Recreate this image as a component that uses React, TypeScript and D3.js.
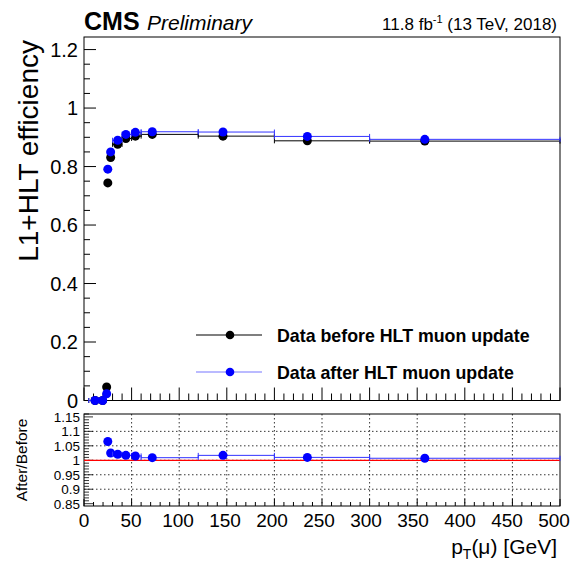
import React from "react";
import * as d3 from "d3";

const ptVals = [11.6, 19.6, 23.8, 25, 28, 35.4, 44, 54, 71.7, 146, 234.6, 358];
const binLo = [5, 15, 22, 24, 26, 30, 40, 50, 60, 120, 200, 300];
const binHi = [15, 22, 24, 26, 30, 40, 50, 60, 120, 200, 300, 500];
const effBefore = [0, 0, 0.046, 0.744, 0.831, 0.876, 0.896, 0.904, 0.91, 0.904, 0.888, 0.887];
const effAfter = [0, 0, 0.023, 0.791, 0.85, 0.89, 0.91, 0.917, 0.919, 0.918, 0.903, 0.893];
const effErr = [0, 0, 0.004, 0.004, 0.003, 0.002, 0.002, 0.002, 0.002, 0.002, 0.004, 0.008];
const ratioVals: (number | null)[] = [null, null, null, 1.065, 1.025, 1.021, 1.017, 1.015, 1.009, 1.017, 1.01, 1.007];
const ratioErr = [0, 0, 0, 0.004, 0.002, 0.002, 0.002, 0.002, 0.002, 0.002, 0.004, 0.012];
const xTicks = [0, 50, 100, 150, 200, 250, 300, 350, 400, 450, 500];
const yTicks = [0, 0.2, 0.4, 0.6, 0.8, 1, 1.2];
const rTicks = [0.85, 0.9, 0.95, 1, 1.05, 1.1, 1.15];
const legendLabels = ["Data before HLT muon update", "Data after HLT muon update"];

const L = 84, R = 560, T = 37, B = 400.5, RT = 414, RB = 506;
const FONT = "'Liberation Sans', Arial, Helvetica, sans-serif";

export default function App() {
  const x = d3.scaleLinear().domain([0, 500]).range([L, R]);
  const y = d3.scaleLinear().domain([0, 1.243]).range([B, T]);
  const yr = d3.scaleLinear().domain([0.842, 1.16]).range([RB, RT]);
  const minorX = d3.range(0, 501, 10);
  const minorY = d3.range(0, 1.2401, 0.05);
  const minorR = d3.range(0.85, 1.1601, 0.01);
  const fmtR = (v: number) => (Math.round(v * 100) / 100).toString();

  const series = [
    { vals: effBefore, color: "#000000", bar: "#000000" },
    { vals: effAfter, color: "#0000ff", bar: "#3333ff" },
  ];

  return (
    <svg width={577} height={564} style={{ position: "absolute", left: 0, top: 0, background: "#fff" }} fontFamily={FONT}>
      <rect x={0} y={0} width={577} height={564} fill="#fff" />
      {/* Header */}
      <text x={L} y={30} fontSize={25} fontWeight="bold">CMS</text>
      <text x={147} y={30} fontSize={21} fontStyle="italic">Preliminary</text>
      <text x={557} y={30} fontSize={17} textAnchor="end">
        11.8 fb<tspan dy={-7} fontSize={11}>-1</tspan><tspan dy={7}> (13 TeV, 2018)</tspan>
      </text>

      {/* Top frame */}
      <rect x={L} y={T} width={R - L} height={B - T} fill="none" stroke="#000" strokeWidth={1} />
      {minorY.map((v, i) => {
        const major = Math.abs(v / 0.2 - Math.round(v / 0.2)) < 1e-6;
        return <line key={"ym" + i} x1={L} x2={L + (major ? 12 : 6)} y1={y(v)} y2={y(v)} stroke="#000" />;
      })}
      {yTicks.map((v) => (
        <text key={"yt" + v} x={78} y={y(v) + 7} fontSize={20} textAnchor="end">{v === 0 || v === 1 ? v : v.toFixed(1)}</text>
      ))}
      {minorX.map((v) => {
        const major = v % 50 === 0;
        return <line key={"xm" + v} x1={x(v)} x2={x(v)} y1={B} y2={B - (major ? 13 : 7)} stroke="#000" />;
      })}
      <text transform={`translate(38,${T + 3}) rotate(-90)`} fontSize={28} textAnchor="end">L1+HLT efficiency</text>

      {/* Data top */}
      {series.map((s, si) => (
        <g key={"s" + si}>
          {ptVals.map((p, i) => (
            <g key={i}>
              <line x1={x(binLo[i])} x2={x(binHi[i])} y1={y(s.vals[i])} y2={y(s.vals[i])} stroke={s.bar} strokeWidth={1} />
              <line x1={x(binLo[i])} x2={x(binLo[i])} y1={y(s.vals[i]) - 2.5} y2={y(s.vals[i]) + 2.5} stroke={s.bar} />
              <line x1={x(binHi[i])} x2={x(binHi[i])} y1={y(s.vals[i]) - 2.5} y2={y(s.vals[i]) + 2.5} stroke={s.bar} />
              <line x1={x(p)} x2={x(p)} y1={y(s.vals[i] - effErr[i])} y2={y(Math.min(1, s.vals[i] + effErr[i]))} stroke={s.bar} />
            </g>
          ))}
          {ptVals.map((p, i) => (
            <circle key={"c" + i} cx={x(p)} cy={y(s.vals[i])} r={4.5} fill={s.color} />
          ))}
        </g>
      ))}

      {/* Legend */}
      {legendLabels.map((lab, i) => {
        const ly = 335 + i * 37;
        const c = i === 0 ? "#000" : "#0000ff";
        return (
          <g key={"lg" + i}>
            <line x1={196} x2={262} y1={ly} y2={ly} stroke={i === 0 ? "#000" : "#7777ff"} strokeWidth={1.2} />
            <circle cx={230} cy={ly} r={4.3} fill={c} />
            <text x={277} y={ly + 6.5} fontSize={17.8} fontWeight="bold">{lab}</text>
          </g>
        );
      })}

      {/* Ratio panel */}
      <rect x={L} y={RT} width={R - L} height={RB - RT} fill="none" stroke="#000" strokeWidth={1} />
      {xTicks.slice(1, -1).map((v) => (
        <line key={"gx" + v} x1={x(v)} x2={x(v)} y1={RT} y2={RB} stroke="#000" strokeDasharray="1.5,2.5" strokeWidth={0.8} />
      ))}
      {rTicks.slice(1, -1).map((v) => (
        <line key={"gy" + v} x1={L} x2={R} y1={yr(v)} y2={yr(v)} stroke="#000" strokeDasharray="1.5,2.5" strokeWidth={0.8} />
      ))}
      {minorR.map((v, i) => {
        const major = i % 5 === 0;
        return <line key={"rm" + i} x1={L} x2={L + (major ? 9 : 5)} y1={yr(v)} y2={yr(v)} stroke="#000" strokeWidth={0.8} />;
      })}
      {minorX.map((v) => {
        const major = v % 50 === 0;
        return <line key={"rx" + v} x1={x(v)} x2={x(v)} y1={RB} y2={RB - (major ? 7 : 4)} stroke="#000" />;
      })}
      {rTicks.map((v) => (
        <text key={"rt" + v} x={80} y={yr(v) + 5} fontSize={13.5} textAnchor="end">{fmtR(v)}</text>
      ))}
      {xTicks.map((v) => (
        <text key={"xt" + v} x={x(v) - v * 0.012} y={527} fontSize={19} textAnchor="middle">{v}</text>
      ))}
      <line x1={L} x2={R} y1={yr(1)} y2={yr(1)} stroke="#ff0000" strokeWidth={1.3} />
      {ptVals.map((p, i) => {
        const r = ratioVals[i];
        if (r === null) return null;
        return (
          <g key={"r" + i}>
            <line x1={x(binLo[i])} x2={x(binHi[i])} y1={yr(r)} y2={yr(r)} stroke="#3333ff" />
            <line x1={x(binLo[i])} x2={x(binLo[i])} y1={yr(r) - 2.5} y2={yr(r) + 2.5} stroke="#3333ff" />
            <line x1={x(binHi[i])} x2={x(binHi[i])} y1={yr(r) - 2.5} y2={yr(r) + 2.5} stroke="#3333ff" />
            <line x1={x(p)} x2={x(p)} y1={yr(r - ratioErr[i])} y2={yr(r + ratioErr[i])} stroke="#3333ff" />
            <circle cx={x(p)} cy={yr(r)} r={4.5} fill="#0000ff" />
          </g>
        );
      })}
      <text transform={`translate(27,${(RT + RB) / 2}) rotate(-90)`} fontSize={15.5} textAnchor="middle">After/Before</text>
      <text x={557} y={554} fontSize={21} textAnchor="end">
        p<tspan dy={5} fontSize={14}>T</tspan><tspan dy={-5}>(μ) [GeV]</tspan>
      </text>
    </svg>
  );
}
